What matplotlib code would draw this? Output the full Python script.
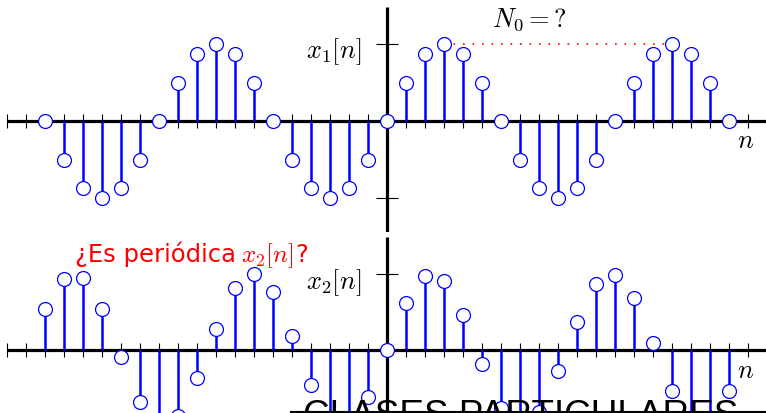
import matplotlib
matplotlib.use("Agg")
import matplotlib.pyplot as plt
from matplotlib.lines import Line2D
import numpy as np

plt.rcParams['mathtext.fontset'] = 'cm'

# muestras n = -18 .. 18
n = np.arange(-18, 19)
x1 = [0, -0.5, -0.87, -1, -0.87, -0.5, 0, 0.5, 0.87, 1, 0.87, 0.5,
      0, -0.5, -0.87, -1, -0.87, -0.5, 0, 0.5, 0.87, 1, 0.87, 0.5,
      0, -0.5, -0.87, -1, -0.87, -0.5, 0, 0.5, 0.87, 1, 0.87, 0.5, 0]
x2 = [0.54, 0.94, 0.95, 0.54, -0.09, -0.69, -0.99, -0.87, -0.37, 0.28,
      0.81, 1.0, 0.76, 0.19, -0.46, -0.91, -0.97, -0.62, 0,
      0.62, 0.97, 0.91, 0.46, -0.19, -0.76, -1.0, -0.81, -0.28, 0.37,
      0.87, 0.99, 0.69, 0.09, -0.54, -0.95, -0.94, -0.54]
ticks_n = np.arange(-20, 21)

W, H = 766, 413
fig = plt.figure(figsize=(W / 100, H / 100), dpi=100)

# eje horizontal: n=0 en x=387 px, 19 px por muestra
xlim = (-387 / 19, (W - 387) / 19)

def fx(px):
    return px / W

def fy(py):
    return 1 - py / H

def draw_axis(ax, vals, y0, unit, top, bottom, vtop):
    ax.set_xlim(*xlim)
    ax.set_ylim(-(bottom - y0) / unit, (y0 - top) / unit)
    ax.axis('off')
    ax.plot([-20, xlim[1]], [0, 0], color='k', lw=2.3, zorder=2,
            solid_capstyle='butt')
    ax.plot([0, 0], [(y0 - vtop) / unit, -(bottom - y0) / unit], color='k',
            lw=2.3, zorder=2, solid_capstyle='butt')
    ax.vlines(ticks_n, -7 / unit, 7 / unit, color='k', lw=0.8, zorder=2)
    ax.hlines([1, -1], -0.58, 0.58, color='k', lw=0.8, zorder=2)
    markerline, stemlines, baseline = ax.stem(n, vals, basefmt=' ')
    plt.setp(stemlines, color='#0000ff', lw=1.8, zorder=3)
    plt.setp(markerline, color='#0000ff', markerfacecolor='white',
             markeredgewidth=0.9, markersize=10, zorder=4)

ax1 = fig.add_axes([0, fy(232), 1, 232 / H])
draw_axis(ax1, x1, 121, 77, 0, 232, 7)
ax1.plot([3, 15], [1, 1], color='red', lw=1.2, linestyle=(0, (1, 4.7)),
         zorder=3)

ax2 = fig.add_axes([0, 0, 1, (H - 237) / H])
draw_axis(ax2, x2, 350, 76, 237, H, 237)

# textos
fig.text(fx(334), fy(52), r'$x_1[n]$', fontsize=19, ha='center', va='center')
fig.text(fx(334), fy(283), r'$x_2[n]$', fontsize=19, ha='center', va='center')
fig.text(fx(529), fy(20), r'$N_0 =?$', fontsize=19, ha='center', va='center')
fig.text(fx(746), fy(141), r'$n$', fontsize=19, ha='center', va='center')
fig.text(fx(746), fy(371), r'$n$', fontsize=19, ha='center', va='center')
fig.text(fx(75), fy(262), '¿Es periódica', fontsize=17.5,
         color='red', ha='left', va='baseline', family='DejaVu Sans')
fig.text(fx(241), fy(262), r'$x_2[n]$', fontsize=18, color='red',
         ha='left', va='baseline')
fig.text(fx(295), fy(262), '?', fontsize=17.5, color='red', ha='left',
         va='baseline', family='DejaVu Sans')

fig.text(fx(303), fy(426.5), 'CLASES PARTICULARES', fontsize=26.6,
         family='Liberation Sans', color='k', ha='left', va='baseline',
         zorder=1)
fig.add_artist(Line2D([fx(291), 1], [fy(412), fy(412)], color='k', lw=1.5))

fig.savefig('out.png', dpi=100, facecolor='white')
